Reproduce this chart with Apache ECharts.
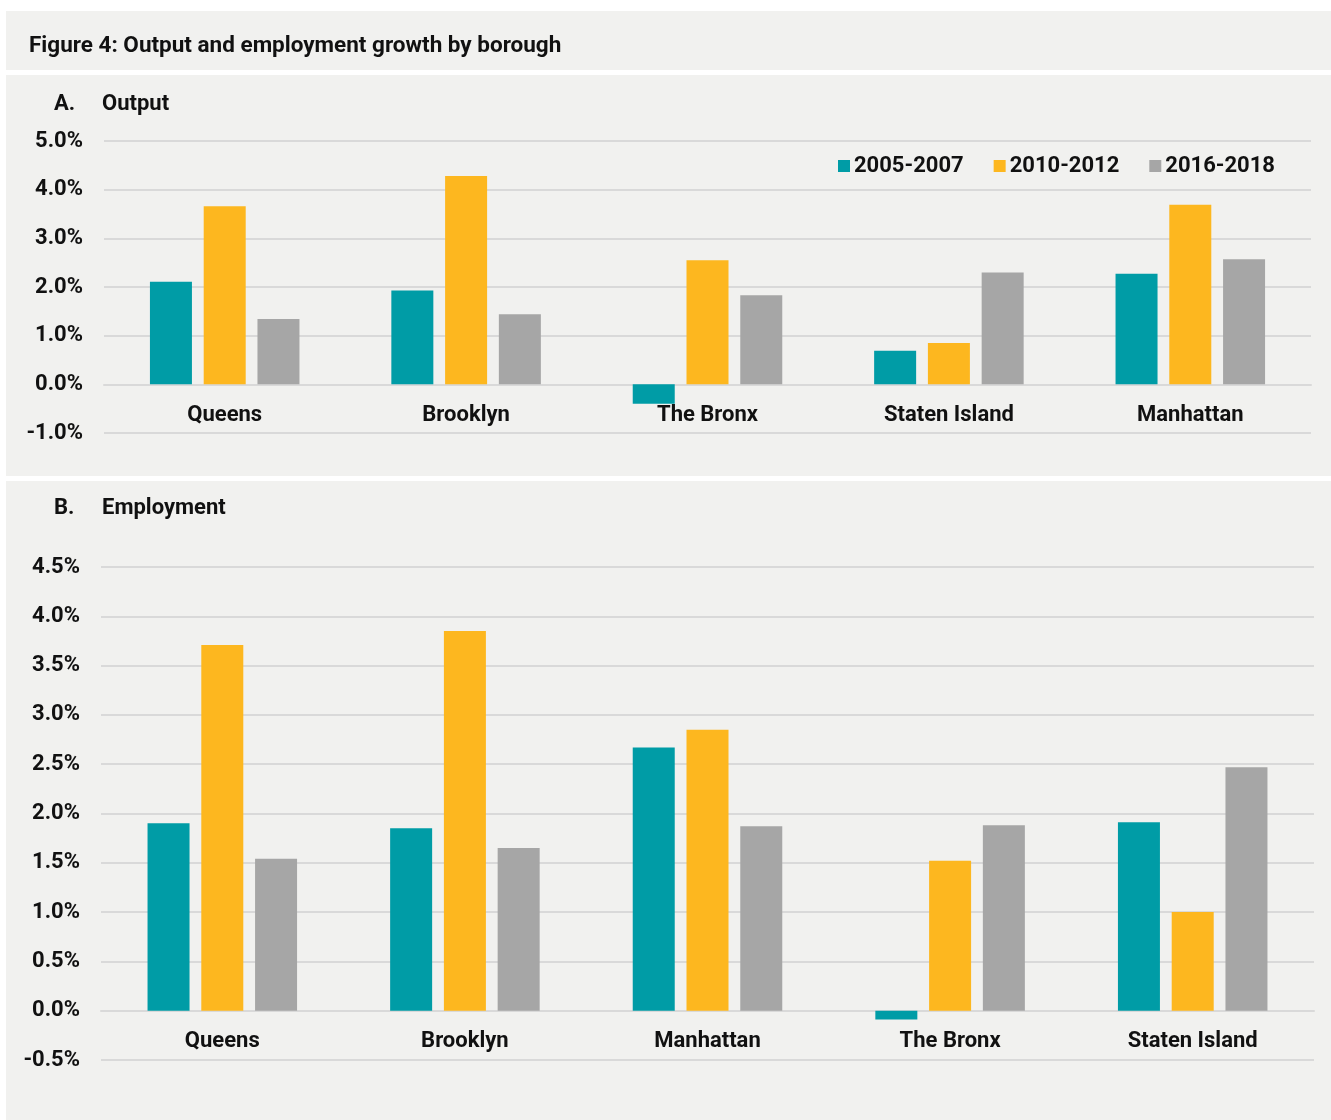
<!DOCTYPE html>
<html>
<head>
<meta charset="utf-8">
<title>Figure 4: Output and employment growth by borough</title>
<script src="https://cdn.jsdelivr.net/npm/echarts@6/dist/echarts.min.js"></script>
<style>
  html, body { margin: 0; padding: 0; background: #ffffff; }
  #chart { width: 1331px; height: 1120px; }
</style>
</head>
<body>
<div id="chart"></div>
<script>
// Growth rates (%) by borough and period
const seriesNames = ['2005-2007', '2010-2012', '2016-2018'];
const seriesColors = ['#009ca6', '#fdb71f', '#a6a6a6'];

// Panel A: output
const outputBoroughs = ['Queens', 'Brooklyn', 'The Bronx', 'Staten Island', 'Manhattan'];
const output2005 = [2.11, 1.93, -0.40, 0.69, 2.27];
const output2010 = [3.66, 4.28, 2.55, 0.85, 3.69];
const output2016 = [1.34, 1.44, 1.83, 2.30, 2.57];
const outputAxis = { min: -1, max: 5, interval: 1 };

// Panel B: employment
const empBoroughs = ['Queens', 'Brooklyn', 'Manhattan', 'The Bronx', 'Staten Island'];
const emp2005 = [1.90, 1.85, 2.67, -0.09, 1.91];
const emp2010 = [3.71, 3.85, 2.85, 1.52, 1.00];
const emp2016 = [1.54, 1.65, 1.87, 1.88, 2.47];
const empAxis = { min: -0.5, max: 4.5, interval: 0.5 };

const FONT = 'Roboto, "Noto Sans", sans-serif';
const FONT_SIZE = 22;
const FONT_WEIGHT = 'bold';
const PANEL_BG = '#f1f1ef';
const GRID_LINE = '#d9d9d9';
const INK = '#111111';

function pct(v) { return v.toFixed(1) + '%'; }

// Category labels sit just under the zero line, so they are pulled up
// from the bottom edge of the grid with a negative margin.
function xAxisFor(gridIndex, cats, labelMargin) {
  return {
    type: 'category',
    gridIndex: gridIndex,
    data: cats,
    axisLine: { show: true, onZero: true, lineStyle: { color: GRID_LINE, width: 2 } },
    axisTick: { show: false },
    axisLabel: { color: INK, fontFamily: FONT, fontSize: FONT_SIZE, fontWeight: FONT_WEIGHT, margin: labelMargin }
  };
}

function yAxisFor(gridIndex, ax) {
  return {
    type: 'value',
    gridIndex: gridIndex,
    min: ax.min, max: ax.max, interval: ax.interval,
    axisLine: { show: false },
    axisTick: { show: false },
    splitLine: { lineStyle: { color: GRID_LINE, width: 2 } },
    axisLabel: { color: INK, fontFamily: FONT, fontSize: FONT_SIZE, fontWeight: FONT_WEIGHT, margin: 21, formatter: pct }
  };
}

function barSeries(idx, values, axisIdx) {
  return {
    type: 'bar',
    name: seriesNames[idx],
    xAxisIndex: axisIdx,
    yAxisIndex: axisIdx,
    data: values,
    barWidth: 42,
    barGap: '28%',
    itemStyle: { color: seriesColors[idx] },
    emphasis: { disabled: true }
  };
}

function heading(x, y, text, size) {
  return {
    type: 'text', x: x, y: y,
    style: { text: text, fill: INK, font: FONT_WEIGHT + ' ' + (size || FONT_SIZE) + 'px ' + FONT, textVerticalAlign: 'middle' }
  };
}

const chart = echarts.init(document.getElementById('chart'), null, { renderer: 'canvas' });

chart.setOption({
  backgroundColor: '#ffffff',
  animation: false,
  graphic: [
    { type: 'rect', z: -10, shape: { x: 6, y: 11, width: 1325, height: 59 }, style: { fill: PANEL_BG } },
    { type: 'rect', z: -10, shape: { x: 6, y: 75, width: 1325, height: 401 }, style: { fill: PANEL_BG } },
    { type: 'rect', z: -10, shape: { x: 6, y: 481, width: 1325, height: 639 }, style: { fill: PANEL_BG } },
    heading(29, 46, 'Figure 4: Output and employment growth by borough', 22.5),
    heading(54, 104, 'A.'),
    heading(102, 104, 'Output'),
    heading(54, 508, 'B.'),
    heading(102, 508, 'Employment')
  ],
  legend: {
    data: seriesNames,
    left: 838,
    top: 155,
    padding: 0,
    icon: 'rect',
    itemWidth: 12,
    itemHeight: 12,
    itemGap: 30,
    selectedMode: false,
    textStyle: { color: INK, fontFamily: FONT, fontSize: FONT_SIZE, fontWeight: FONT_WEIGHT, padding: [0, 0, 0, -1] }
  },
  grid: [
    { left: 104, right: 20, top: 141, bottom: 687, containLabel: false },
    { left: 101, right: 17, top: 567, bottom: 60, containLabel: false }
  ],
  xAxis: [xAxisFor(0, outputBoroughs, -29), xAxisFor(1, empBoroughs, -30)],
  yAxis: [yAxisFor(0, outputAxis), yAxisFor(1, empAxis)],
  series: [
    barSeries(0, output2005, 0),
    barSeries(1, output2010, 0),
    barSeries(2, output2016, 0),
    barSeries(0, emp2005, 1),
    barSeries(1, emp2010, 1),
    barSeries(2, emp2016, 1)
  ]
});
</script>
</body>
</html>
